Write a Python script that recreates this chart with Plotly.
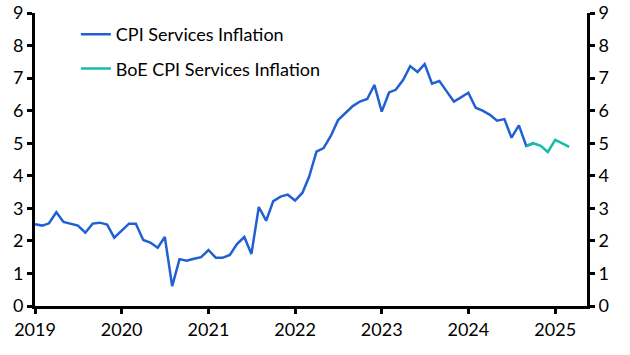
import plotly.graph_objects as go
import pandas as pd

cpi_dates = pd.date_range("2019-01-01", "2024-10-01", freq="MS")
cpi_services = [
    2.51, 2.47, 2.54, 2.88, 2.58, 2.53, 2.47, 2.25, 2.53, 2.56, 2.50, 2.10,
    2.31, 2.53, 2.53, 2.03, 1.95, 1.79, 2.12, 0.61, 1.44, 1.39, 1.45, 1.50,
    1.72, 1.48, 1.48, 1.57, 1.90, 2.12, 1.60, 3.04, 2.62, 3.22, 3.36, 3.42,
    3.24, 3.48, 3.97, 4.74, 4.85, 5.23, 5.71, 5.92, 6.14, 6.28, 6.36, 6.79,
    5.97, 6.56, 6.64, 6.94, 7.37, 7.19, 7.43, 6.83, 6.91, 6.60, 6.28, 6.41,
    6.55, 6.09, 6.00, 5.87, 5.69, 5.74, 5.17, 5.55, 4.92, 5.00,
]
boe_dates = pd.date_range("2024-09-01", "2025-03-01", freq="MS")
boe_services = [4.90, 5.00, 4.92, 4.73, 5.10, 4.98, 4.89]

year_ticks = [f"{y}-01-01" for y in range(2019, 2026)]
year_labels = [str(y) for y in range(2019, 2026)]
y_ticks = list(range(0, 10))

FONT = "Lato"
FS = 18

fig = go.Figure()
fig.add_trace(go.Scatter(x=cpi_dates, y=cpi_services, mode="lines",
                         name="CPI Services Inflation", legendgroup="a",
                         line=dict(color="#2060D2", width=2.5)))
fig.add_trace(go.Scatter(x=boe_dates, y=boe_services, mode="lines",
                         name="BoE CPI Services Inflation", legendgroup="b",
                         yaxis="y2",
                         line=dict(color="#16BCA8", width=2.5)))

axis_common = dict(showgrid=False, zeroline=False, showline=True,
                   linecolor="black", linewidth=3, ticks="outside",
                   tickcolor="black", tickwidth=2.5, ticklen=5,
                   automargin=False, ticklabeloverflow="allow",
                   tickfont=dict(family=FONT, size=FS, color="black"))

fig.update_layout(
    width=630, height=355,
    margin=dict(l=35, r=43, t=13, b=49),
    plot_bgcolor="white", paper_bgcolor="white",
    font=dict(family=FONT, size=FS, color="black"),
    showlegend=True,
    legend=dict(x=0.074, y=0.99, xanchor="left", yanchor="top",
                bgcolor="rgba(0,0,0,0)", font=dict(family=FONT, size=FS),
                traceorder="grouped", tracegroupgap=8),
    xaxis=dict(range=["2019-01-01", "2025-05-15"], tickvals=year_ticks,
               ticktext=year_labels, **axis_common),
    yaxis=dict(range=[0, 9], tickvals=y_ticks, **axis_common),
    yaxis2=dict(range=[0, 9], tickvals=y_ticks, overlaying="y", side="right",
                anchor="x", **axis_common),
)

# remove the browser's default 8px page margin so the figure fills the window
fig.write_html("out.html",
               config={"displayModeBar": False},
               post_script="document.body.style.margin='0';"
                           "document.body.style.overflow='hidden';")
